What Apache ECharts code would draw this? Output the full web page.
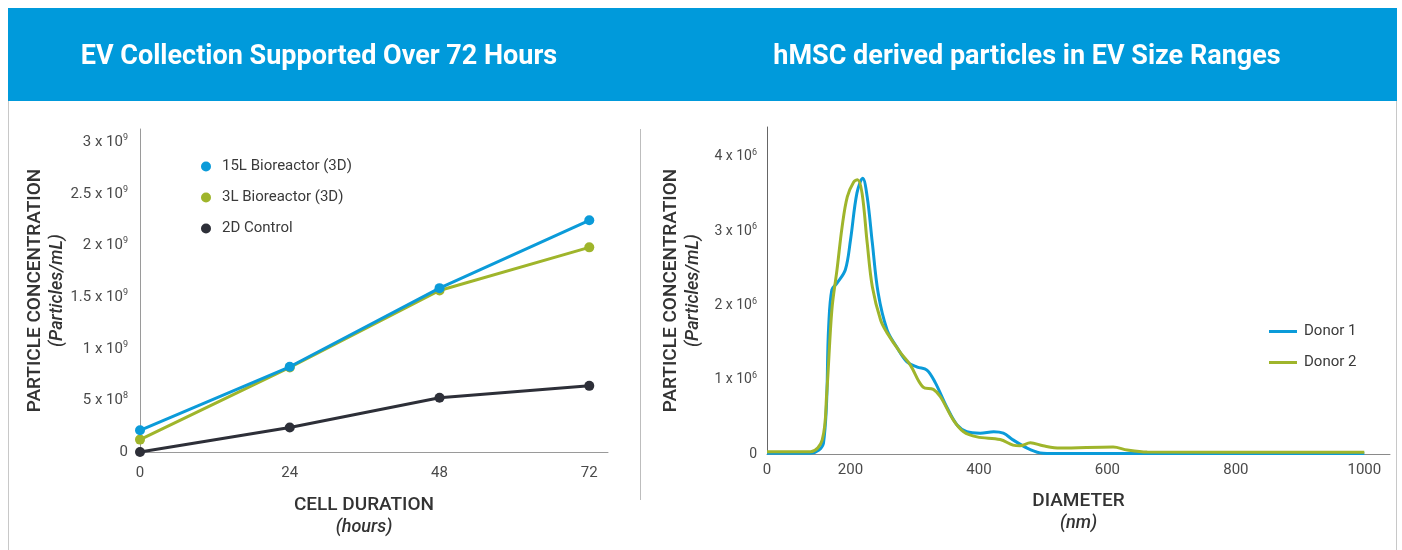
<!DOCTYPE html>
<html>
<head>
<meta charset="utf-8">
<script src="https://cdn.jsdelivr.net/npm/echarts@6/dist/echarts.min.js"></script>
<style>
  html, body { margin: 0; padding: 0; background: #ffffff; }
  #chart { width: 1402px; height: 550px; }
</style>
</head>
<body>
<div id="chart"></div>
<script>
// ---- Left chart data ----
const titleLeft = 'EV Collection Supported Over 72 Hours';
const titleRight = 'hMSC derived particles in EV Size Ranges';
const hours = [0, 24, 48, 72];
const bioreactor15L = [0.21e9, 0.826e9, 1.588e9, 2.245e9];
const bioreactor3L = [0.12e9, 0.82e9, 1.565e9, 1.983e9];
const control2D = [0, 0.237e9, 0.525e9, 0.641e9];
const leftSeriesNames = ['15L Bioreactor (3D)', '3L Bioreactor (3D)', '2D Control'];

// ---- Right chart data ----
const diameter1 = [70, 138, 158, 166, 171, 179, 192, 200, 210, 219, 226, 234, 243, 257, 272, 288, 304, 319, 332, 350, 366, 381, 402, 423, 438, 453, 475, 495, 506, 1000];
const donor1 = [0.01e6, 0.01e6, 0.15e6, 1.71e6, 2.21e6, 2.30e6, 2.48e6, 2.88e6, 3.51e6, 3.71e6, 3.46e6, 2.84e6, 2.17e6, 1.67e6, 1.44e6, 1.24e6, 1.17e6, 1.13e6, 0.96e6, 0.63e6, 0.39e6, 0.30e6, 0.28e6, 0.30e6, 0.28e6, 0.19e6, 0.08e6, 0.015e6, 0.008e6, 0.008e6];
const diameter2 = [70, 138, 156, 163, 171, 179, 187, 195, 205, 211, 218, 226, 234, 247, 257, 278, 293, 313, 329, 340, 360, 376, 397, 433, 453, 464, 480, 500, 526, 609, 631, 662, 1000];
const donor2 = [0.03e6, 0.03e6, 0.19e6, 0.82e6, 1.94e6, 2.48e6, 3.06e6, 3.46e6, 3.66e6, 3.69e6, 3.51e6, 2.84e6, 2.25e6, 1.80e6, 1.63e6, 1.36e6, 1.20e6, 0.90e6, 0.87e6, 0.77e6, 0.46e6, 0.30e6, 0.23e6, 0.195e6, 0.12e6, 0.11e6, 0.15e6, 0.11e6, 0.08e6, 0.094e6, 0.054e6, 0.027e6, 0.023e6];
const rightSeriesNames = ['Donor 1', 'Donor 2'];
// NOTE: in the reference, the 200..1000 labels are evenly spaced (~128 px per 200 nm),
// but the axis origin (labelled "0") sits only ~80 px left of "200", i.e. at ~70 nm on
// that same scale. To reproduce the picture, the axis starts at 70 nm and its first
// label is printed as "0", exactly as the reference shows it.
const diameterTicks = [70, 200, 400, 600, 800, 1000];

const BLUE = '#0B9BD9';
const GREEN = '#9FB52B';
const DARK = '#2D2F38';
const LABEL = '#4a4a4a';
const FONT = 'Roboto';

function sciLabel(v) {
  if (v === 0) return '{n|0}';
  const e = Math.floor(Math.log10(v) + 1e-9);
  const m = +(v / Math.pow(10, e)).toFixed(2);
  return '{n|' + m + ' x 10}{s|' + e + '}';
}
function makeSciRich(size) {
  return {
    n: { fontSize: size, color: LABEL, fontFamily: FONT },
    s: { fontSize: Math.round(size * 0.62), color: LABEL, fontFamily: FONT, padding: [0, 0, Math.round(size * 0.6), 0] }
  };
}
const nameRich = {
  b: { fontSize: 19, fontWeight: 500, color: '#333333', fontFamily: FONT, lineHeight: 22 },
  i: { fontSize: 18, fontWeight: 500, fontStyle: 'italic', color: '#333333', fontFamily: FONT, lineHeight: 22 }
};

const chart = echarts.init(document.getElementById('chart'), null, { renderer: 'canvas' });

const leftColors = [BLUE, GREEN, DARK];
const leftData = [bioreactor15L, bioreactor3L, control2D];

const option = {
  backgroundColor: '#ffffff',
  animation: false,
  textStyle: { fontFamily: FONT },
  graphic: [
    { type: 'rect', shape: { x: 8, y: 8, width: 1389, height: 93 }, style: { fill: '#009ADB' }, z: -1 },
    { type: 'line', shape: { x1: 8.5, y1: 101, x2: 8.5, y2: 550 }, style: { stroke: '#c8c8c8', lineWidth: 1 } },
    { type: 'line', shape: { x1: 1396.5, y1: 101, x2: 1396.5, y2: 550 }, style: { stroke: '#c8c8c8', lineWidth: 1 } },
    { type: 'line', shape: { x1: 640.5, y1: 129, x2: 640.5, y2: 500 }, style: { stroke: '#bdbdbd', lineWidth: 1 } }
  ],
  title: [
    { text: titleLeft, left: 314, top: 39, textAlign: 'center',
      textStyle: { color: '#ffffff', fontSize: 27, fontWeight: 'bold', fontFamily: FONT } },
    { text: titleRight, left: 1022, top: 39, textAlign: 'center',
      textStyle: { color: '#ffffff', fontSize: 27, fontWeight: 'bold', fontFamily: FONT } }
  ],
  legend: [
    { data: leftSeriesNames, orient: 'vertical', left: 196, top: 154, itemGap: 16,
      icon: 'circle', itemWidth: 10, itemHeight: 10,
      textStyle: { fontSize: 15, color: '#3a3a3a', fontFamily: FONT, padding: [0, 0, 0, 6] } },
    { data: rightSeriesNames, orient: 'vertical', left: 1264, top: 319, itemGap: 16,
      icon: 'rect', itemWidth: 28, itemHeight: 3,
      textStyle: { fontSize: 15, color: '#3a3a3a', fontFamily: FONT, padding: [0, 0, 0, 2] } }
  ],
  grid: [
    { left: 140, top: 129, width: 468, height: 323 },
    { left: 767, top: 127, width: 623, height: 327 }
  ],
  xAxis: [
    { gridIndex: 0, type: 'value', min: 0, max: 75, interval: 24,
      name: '{b|CELL DURATION}\n{i|(hours)}', nameLocation: 'middle', nameGap: 42,
      nameTextStyle: { rich: nameRich, padding: [0, 20, 0, 0] },
      axisLine: { show: true, onZero: false, lineStyle: { color: '#9a9a9a', width: 1 } },
      axisTick: { show: false }, splitLine: { show: false },
      axisLabel: { showMaxLabel: false, color: LABEL, fontSize: 15, margin: 14, fontFamily: FONT } },
    { gridIndex: 1, type: 'value', min: 70, max: 1040,
      name: '{b|DIAMETER}\n{i|(nm)}', nameLocation: 'middle', nameGap: 36,
      nameTextStyle: { rich: nameRich },
      axisLine: { show: true, onZero: false, lineStyle: { color: '#8a8a8a', width: 1 } },
      axisTick: { show: false }, splitLine: { show: false },
      axisLabel: { customValues: diameterTicks, color: LABEL, fontSize: 15, margin: 9, fontFamily: FONT,
        formatter: function (v) { return v === diameterTicks[0] ? '0' : String(v); } } }
  ],
  yAxis: [
    { gridIndex: 0, type: 'value', min: 0, max: 3.13e9, interval: 5e8,
      name: '{b|PARTICLE CONCENTRATION}\n{i|(Particles/mL)}', nameLocation: 'middle', nameGap: 71, nameRotate: 90,
      nameTextStyle: { rich: nameRich },
      axisLine: { show: true, lineStyle: { color: '#9a9a9a', width: 1 } },
      axisTick: { show: false }, splitLine: { show: false },
      axisLabel: { showMaxLabel: false, margin: 12, formatter: sciLabel, rich: makeSciRich(15) } },
    { gridIndex: 1, type: 'value', min: 0, max: 4.4e6, interval: 1e6,
      name: '{b|PARTICLE CONCENTRATION}\n{i|(Particles/mL)}', nameLocation: 'middle', nameGap: 63, nameRotate: 90,
      nameTextStyle: { rich: nameRich },
      axisLine: { show: true, lineStyle: { color: '#666666', width: 1 } },
      axisTick: { show: false }, splitLine: { show: false },
      axisLabel: { showMaxLabel: false, margin: 10, formatter: sciLabel, rich: makeSciRich(14) } }
  ],
  series: leftSeriesNames.map(function (name, i) {
    return {
      name: name, type: 'line', xAxisIndex: 0, yAxisIndex: 0,
      data: hours.map(function (h, j) { return [h, leftData[i][j]]; }),
      symbol: 'circle', symbolSize: 10, z: 5 - i,
      lineStyle: { color: leftColors[i], width: 3 },
      itemStyle: { color: leftColors[i] }
    };
  }).concat([
    { name: rightSeriesNames[0], type: 'line', xAxisIndex: 1, yAxisIndex: 1,
      data: diameter1.map(function (d, j) { return [d, donor1[j]]; }),
      showSymbol: false, symbol: 'none', smooth: 0.35, z: 3,
      lineStyle: { color: BLUE, width: 3 }, itemStyle: { color: BLUE } },
    { name: rightSeriesNames[1], type: 'line', xAxisIndex: 1, yAxisIndex: 1,
      data: diameter2.map(function (d, j) { return [d, donor2[j]]; }),
      showSymbol: false, symbol: 'none', smooth: 0.35, z: 4,
      lineStyle: { color: GREEN, width: 3 }, itemStyle: { color: GREEN } }
  ])
};
chart.setOption(option);
</script>
</body>
</html>
